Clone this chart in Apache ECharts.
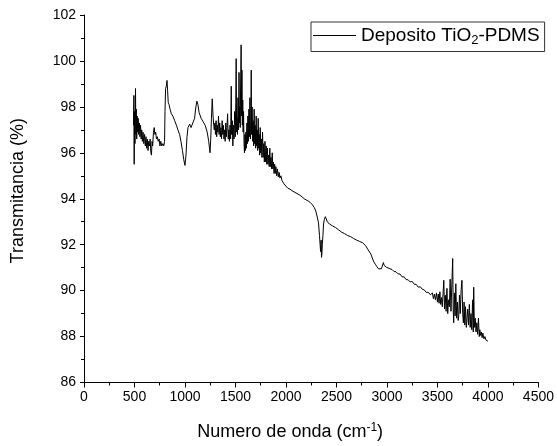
<!DOCTYPE html>
<html>
<head>
<meta charset="utf-8">
<script src="https://cdn.jsdelivr.net/npm/echarts@6/dist/echarts.min.js"></script>
<style>html,body{margin:0;padding:0;background:#fff}#c{width:557px;height:446px}</style>
</head>
<body>
<div id="c"></div>
<script>
const xTicks = [0, 500, 1000, 1500, 2000, 2500, 3000, 3500, 4000, 4500];
const yTicks = [86, 88, 90, 92, 94, 96, 98, 100, 102];
const seriesName = 'Deposito TiO2-PDMS';

// [wavenumber cm-1, transmittance %]
const lowRegion = [
[490,97.2],[494,98.5],[497,95.5],[500,97.8],[505,96.4],[510,98.8],[514,96.8],[518,97.9],[522,96.6],[527,97.6],
[532,96.9],[537,97.5],[542,96.8],[548,97.3],[553,96.7],[560,97.2],[566,96.6],[572,97.0],[578,96.5],[585,96.9],
[592,96.4],[600,96.8],[607,96.3],[614,96.7],[620,96.2],[627,96.6],[634,96.1],[640,96.5],[648,96.3],[655,96.6],
[662,96.0],[668,95.9],[674,96.5],[680,96.3],[688,96.9],[695,97.1],[702,96.8],[710,96.9],[718,96.6],[726,96.7],
[735,96.5],[744,96.6],[752,96.3],[760,96.5],[770,96.3],[780,96.4],[790,96.3],[798,96.5]
];
const midRegion = [
[802,97.8],[808,98.8],[815,98.9],[822,99.15],[828,98.7],[834,98.2],[842,98.1],[852,97.9],[865,97.7],[880,97.6],
[898,97.4],[915,97.2],[930,97.0],[947,96.8],[960,96.5],[975,96.1],[988,95.7],[1000,95.45],[1010,95.9],[1020,96.7],
[1030,97.1],[1046,97.25],[1060,97.1],[1079,97.05],[1095,97.5],[1108,98.0],[1118,98.25],[1128,98.1],[1140,97.75],[1160,97.5],
[1180,97.35],[1200,97.2],[1220,96.9],[1235,96.5],[1248,96.0],[1255,96.6],[1262,97.5],[1270,98.35],[1278,97.6],[1285,97.2]
];
const noisyRegion = [
[1290,97.0],[1296,97.3],[1302,96.8],[1308,97.4],[1314,96.7],[1320,97.2],[1326,96.9],[1332,97.6],[1338,96.8],[1344,97.3],
[1350,96.7],[1356,97.1],[1362,96.6],[1368,97.4],[1374,96.8],[1380,97.2],[1386,96.6],[1392,97.0],[1398,96.5],[1404,97.3],
[1410,96.7],[1416,97.1],[1422,97.7],[1428,96.6],[1434,97.0],[1440,96.5],[1446,97.2],[1452,96.6],[1458,98.9],[1462,96.8],
[1468,97.4],[1474,96.3],[1480,97.2],[1486,96.6],[1492,97.8],[1498,96.7],[1503,98.2],[1507,100.1],[1511,96.9],[1516,97.5],
[1520,96.8],[1525,98.4],[1530,97.0],[1535,99.5],[1539,97.3],[1543,98.0],[1547,97.1],[1551,99.0],[1556,100.7],[1560,97.6],
[1564,99.6],[1568,97.2],[1572,98.3],[1576,96.9],[1580,97.8],[1585,96.4],[1589,96.0],[1594,96.8],[1598,96.1],[1603,96.9],
[1608,96.2],[1613,97.3],[1618,96.4],[1623,97.6],[1628,96.5],[1633,97.9],[1638,96.7],[1643,98.4],[1648,96.6],[1652,97.2],
[1656,99.6],[1660,96.8],[1665,98.0],[1670,96.5],[1675,97.4],[1680,96.3],[1685,97.9],[1690,96.4],[1695,97.2],[1700,96.2],
[1705,97.6],[1710,96.3],[1715,97.0],[1720,96.1],[1725,97.5],[1730,96.2],[1735,96.8],[1740,95.9],[1745,97.1],[1750,96.0],
[1756,96.6],[1762,95.8],[1768,96.9],[1774,95.8],[1780,96.4],[1786,95.6],[1792,96.5],[1798,95.6],[1804,96.3],[1810,95.5],
[1816,96.2],[1822,95.5],[1828,95.9],[1834,95.4],[1840,96.2],[1846,95.4],[1852,95.8],[1858,95.3],[1864,96.0],[1870,95.3],
[1876,95.6],[1882,95.1],[1888,95.5],[1894,95.1],[1900,95.4],[1908,95.0],[1916,95.3],[1924,94.95],[1932,95.15],[1940,94.9],
[1950,95.0],[1960,94.8],[1970,94.85],[1980,94.65],[1990,94.7]
];
const smoothRegion = [
[2000,94.55],[2020,94.45],[2040,94.42],[2060,94.35],[2080,94.3],[2100,94.25],[2120,94.2],[2140,94.15],[2160,94.08],[2180,94.0],
[2200,93.95],[2220,93.9],[2240,93.84],[2260,93.75],[2280,93.62],[2295,93.47],[2310,93.2],[2322,92.95],[2332,92.4],[2338,92.0],
[2343,91.7],[2348,92.2],[2352,91.45],[2356,91.6],[2360,92.0],[2366,92.4],[2372,92.9],[2380,93.1],[2390,93.22],[2398,93.15],
[2410,93.0],[2430,92.9],[2460,92.82],[2490,92.75],[2520,92.65],[2550,92.55],[2580,92.48],[2610,92.4],[2640,92.35],[2670,92.27],
[2700,92.2],[2730,92.14],[2760,92.08],[2790,91.95],[2810,91.8],[2825,91.72],[2840,91.6],[2855,91.42],[2870,91.25],[2885,91.15],
[2900,91.05],[2915,90.95],[2930,90.88],[2945,90.95],[2955,91.0],[2965,91.22],[2972,91.1],[2980,91.12],[2995,91.02],[3010,91.0],
[3030,90.95],[3050,90.92],[3070,90.83],[3090,90.82],[3110,90.73],[3130,90.72],[3150,90.6],[3170,90.6],[3190,90.48],[3210,90.47],
[3230,90.38],[3250,90.4],[3270,90.28],[3290,90.27],[3310,90.15],[3330,90.17],[3350,90.06],[3370,90.03],[3390,89.92],[3410,89.93],
[3430,89.82]
];
const highRegion = [
[3440,89.75],[3450,89.9],[3460,89.65],[3470,89.85],[3480,89.6],[3490,89.9],[3500,89.5],[3508,89.85],[3516,89.45],[3524,89.95],
[3532,89.4],[3540,89.7],[3548,89.3],[3556,89.9],[3563,90.45],[3570,89.2],[3578,89.8],[3586,89.1],[3594,90.1],[3602,89.0],
[3610,89.6],[3618,89.3],[3626,90.5],[3634,89.1],[3642,90.2],[3651,91.4],[3656,89.2],[3661,88.6],[3668,89.9],[3675,88.9],
[3682,90.3],[3690,88.8],[3698,89.5],[3705,88.7],[3711,88.9],[3718,89.8],[3726,89.0],[3734,90.0],[3743,90.45],[3750,89.0],
[3757,88.6],[3764,89.5],[3771,88.5],[3778,89.3],[3786,88.4],[3793,88.35],[3800,89.2],[3808,88.5],[3816,89.4],[3824,88.4],
[3832,89.0],[3840,88.3],[3848,89.6],[3855,88.2],[3859,90.15],[3866,88.4],[3874,88.8],[3882,88.2],[3890,88.6],[3898,88.1],
[3906,88.8],[3914,88.0],[3920,88.3],[3926,88.05],[3934,88.2],[3942,87.95],[3950,88.15],[3960,87.9],[3970,88.0],[3980,87.85],
[3990,87.9],[4000,87.8]
];

const spectrum = [].concat(lowRegion, midRegion, noisyRegion, smoothRegion, highRegion);

const FONT = 'Liberation Sans, Arial, sans-serif';
const chart = echarts.init(document.getElementById('c'), null, {renderer: 'canvas'});
chart.setOption({
  animation: false,
  backgroundColor: '#fff',
  textStyle: {fontFamily: FONT, color: '#000'},
  grid: {left: 84, right: 17, top: 15, bottom: 62, containLabel: false},
  legend: {
    show: true,
    left: 311, top: 22,
    orient: 'horizontal',
    borderColor: '#333', borderWidth: 1,
    padding: [4, 5, 5, 2],
    itemWidth: 43, itemHeight: 1, itemGap: 6,
    data: [{name: seriesName, icon: 'rect', itemStyle: {color: '#000'}}],
    formatter: function () { return 'Deposito TiO{sub|2}-PDMS'; },
    textStyle: {
      fontFamily: FONT, fontSize: 19, color: '#000', padding: [0, 0, 0, 0],
      rich: {sub: {fontFamily: FONT, fontSize: 13, color: '#000', padding: [9, 0, 0, 0]}}
    }
  },
  xAxis: {
    type: 'value',
    min: xTicks[0], max: xTicks[xTicks.length - 1], interval: 500,
    name: 'Numero de onda (cm{sup|-1})',
    nameLocation: 'middle', nameGap: 39,
    nameTextStyle: {fontFamily: FONT, fontSize: 18, color: '#000', padding: [0, 42, 0, 0],
      rich: {sup: {fontFamily: FONT, fontSize: 12, color: '#000', padding: [0, 0, 9, 0]}}},
    axisLine: {show: true, onZero: false, lineStyle: {color: '#000', width: 1}},
    axisTick: {show: true, inside: false, length: 5, lineStyle: {color: '#000'}},
    minorTick: {show: true, splitNumber: 2, length: 3, lineStyle: {color: '#000'}},
    axisLabel: {fontFamily: FONT, fontSize: 14, color: '#000', margin: 8,
      formatter: function (v) { return String(v); }},
    splitLine: {show: false}
  },
  yAxis: {
    type: 'value',
    min: yTicks[0], max: yTicks[yTicks.length - 1], interval: 2,
    name: 'Transmitancia (%)',
    nameLocation: 'middle', nameGap: 57, nameRotate: 90,
    nameTextStyle: {fontFamily: FONT, fontSize: 18, color: '#000', padding: [0, 0, 0, 16]},
    axisLine: {show: true, onZero: false, lineStyle: {color: '#000', width: 1}},
    axisTick: {show: true, inside: false, length: 4, lineStyle: {color: '#000'}},
    minorTick: {show: true, splitNumber: 2, length: 3, lineStyle: {color: '#000'}},
    axisLabel: {fontFamily: FONT, fontSize: 14, color: '#000', margin: 8,
      formatter: function (v) { return String(v); }},
    splitLine: {show: false}
  },
  series: [{
    name: seriesName,
    type: 'line',
    data: spectrum,
    symbol: 'none',
    showSymbol: false,
    lineStyle: {color: '#000', width: 1},
    itemStyle: {color: '#000'},
    clip: true
  }]
});
</script>
</body>
</html>
